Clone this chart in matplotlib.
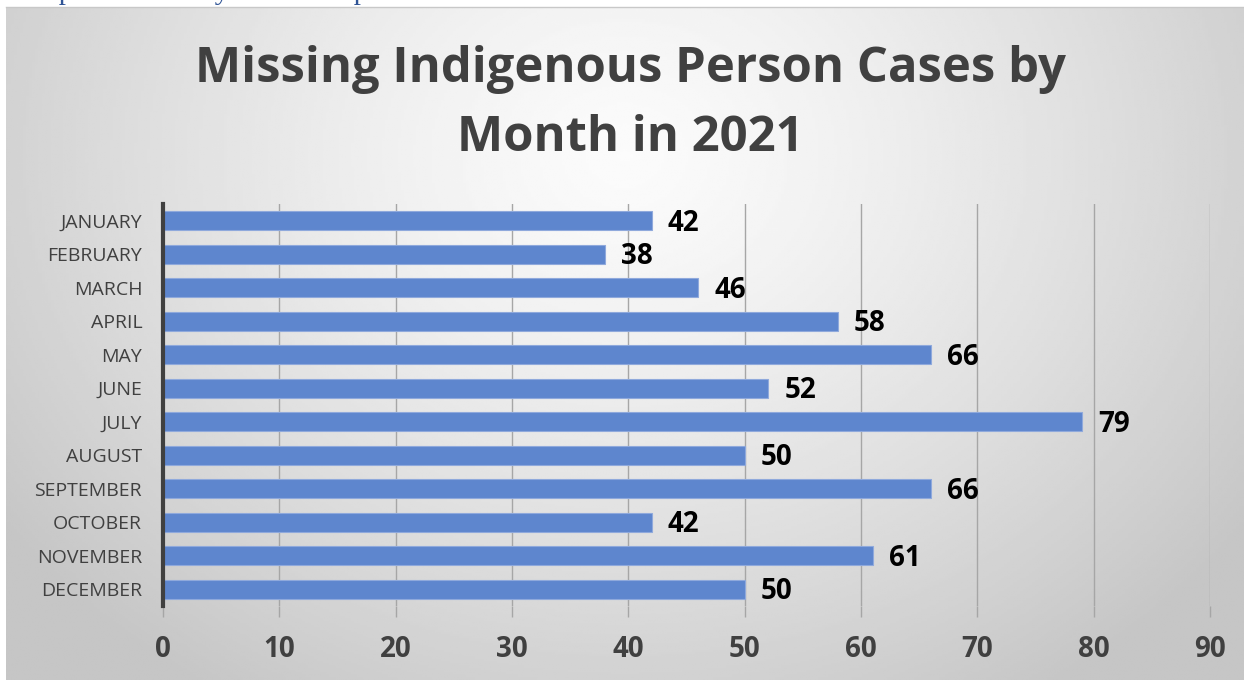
import numpy as np
import matplotlib.pyplot as plt

months = ["JANUARY", "FEBRUARY", "MARCH", "APRIL", "MAY", "JUNE", "JULY",
          "AUGUST", "SEPTEMBER", "OCTOBER", "NOVEMBER", "DECEMBER"]
cases = [42, 38, 46, 58, 66, 52, 79, 50, 66, 42, 61, 50]
x_ticks = [0, 10, 20, 30, 40, 50, 60, 70, 80, 90]

W, H = 1244, 680
fig = plt.figure(figsize=(W / 100, H / 100), dpi=100)
fig.patch.set_facecolor("white")

# gradient background of the chart area
bg = fig.add_axes([6 / W, 0, 1 - 6 / W, (H - 7) / H])
gx, gy = np.meshgrid(np.linspace(0, 1, 400), np.linspace(0, 1, 300))
r = np.sqrt(((gx - 0.5) / 0.62) ** 2 + ((gy - 0.22) / 0.95) ** 2)
shade = 0.985 - 0.21 * np.clip(r, 0, 1) ** 1.3
bg.imshow(shade, cmap="gray", vmin=0, vmax=1, aspect="auto",
          extent=[0, 1, 0, 1], origin="upper")
bg.set_axis_off()

# caption above the chart, cut off by the top edge as in the source
fig.text(15 / W, 1 + 1 / H, "Graph 3: Cases by Month Reported",
         fontsize=21, family="Liberation Serif", color="#2F5496",
         va="baseline", ha="left", zorder=5)
bg.plot([0, 1], [1, 1], color="#c8c8c8", lw=1, transform=bg.transAxes,
        clip_on=False)

ax = fig.add_axes([163 / W, 1 - 606 / H, (1210 - 163) / W, 402 / H])
ax.patch.set_alpha(0)

y = np.arange(len(months))
ax.barh(y, cases, height=0.57, color="#5E86CE", edgecolor="#8fa9dc",
        linewidth=0.8, zorder=3)
for yi, v in zip(y, cases):
    ax.text(v + 1.4, yi + 0.08, str(v), va="center", ha="left",
            fontsize=20, fontweight="bold", color="black",
            family="Open Sans", zorder=4)

ax.set_xlim(0, 90)
ax.set_ylim(len(months) - 0.5, -0.5)
ax.set_xticks(x_ticks)
ax.set_yticks(y)
ax.set_yticklabels(months, fontsize=14, color="#404040", family="Open Sans")
ax.set_xticklabels([str(t) for t in x_ticks], fontsize=20,
                   fontweight="bold", color="#404040", family="Open Sans")
ax.grid(axis="x", color="#a6a6a6", linewidth=1, zorder=1)
ax.tick_params(axis="x", length=8, width=1, color="#a6a6a6", pad=13)
ax.tick_params(axis="y", length=0, pad=15)
for s in ["top", "right", "bottom"]:
    ax.spines[s].set_visible(False)
ax.spines["left"].set_color("#404040")
ax.spines["left"].set_linewidth(3)
ax.spines["left"].set_zorder(5)

fig.text(630 / W, 1 - 104 / H, "Missing Indigenous Person Cases by\nMonth in 2021",
         ha="center", va="center", fontsize=35.3, fontweight="bold",
         color="#404040", family="Open Sans", linespacing=1.56)

fig.savefig("out.png", dpi=100)
